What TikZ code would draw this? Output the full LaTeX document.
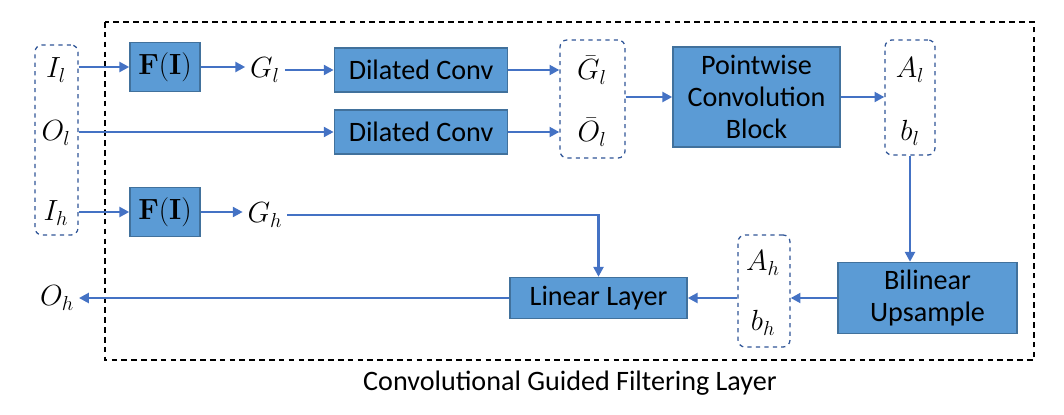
\documentclass[tikz,border=0pt]{standalone}
\usepackage{amsmath, amssymb}
\usepackage[no-math]{fontspec}
\setmainfont{Carlito}
\usepackage{tikz}
\usetikzlibrary{arrows.meta}

\definecolor{boxfill}{HTML}{5B9BD5}
\definecolor{boxline}{HTML}{41719C}
\definecolor{arrowblue}{HTML}{4472C4}
\definecolor{grpline}{HTML}{2F5597}

\begin{document}
\begin{tikzpicture}[x=0.025cm, y=-0.025cm,
  every node/.style={font=\fontsize{20}{23}\selectfont},
  block/.style={draw=boxline, fill=boxfill, line width=1pt, inner sep=0pt, align=center},
  grp/.style={draw=grpline, dashed, line width=0.9pt, rounded corners=5pt, inner sep=0pt},
  flow/.style={draw=arrowblue, line width=1.9pt, -{Triangle[length=7pt,width=7pt]}}]
  \useasboundingbox (0,0) rectangle (1064,414);

  % outer layer frame
  \draw[dashed, line width=1pt, dash pattern=on 4pt off 3pt] (105,22) rectangle (1034,360);
  \node (cap) at (570,383) {Convolutional Guided Filtering Layer};

  % inputs
  \node[grp, minimum width=1.075cm, minimum height=4.75cm] (inbox) at (56.5,140) {};
  \node (il) at (56,70) {$I_l$};
  \node (ol) at (56,133) {$O_l$};
  \node (ih) at (56,213) {$I_h$};

  % low-res branch
  \node[block, minimum width=1.75cm, minimum height=1.225cm] (fl) at (165,67) {$\mathbf{F}(\mathbf{I})$};
  \node (gl) at (265,70) {$G_l$};
  \node[block, minimum width=4.33cm, minimum height=1.1cm] (dcg) at (421,70) {Dilated Conv};
  \node[block, minimum width=4.33cm, minimum height=1.1cm] (dco) at (421,132) {Dilated Conv};
  \node[grp, minimum width=1.625cm, minimum height=2.95cm] (gbox) at (592.5,99) {};
  \node (gbar) at (592,70) {$\bar{G}_l$};
  \node (obar) at (592,132) {$\bar{O}_l$};
  \node[block, minimum width=4.175cm, minimum height=2.5cm] (pw) at (756.5,97) {Pointwise\\Convolution\\Block};
  \node[grp, minimum width=1.25cm, minimum height=2.875cm] (abox) at (910,97.5) {};
  \node (al) at (910,70) {$A_l$};
  \node (bl) at (910,133) {$b_l$};

  % high-res branch
  \node[block, minimum width=1.75cm, minimum height=1.225cm] (fh) at (165,212) {$\mathbf{F}(\mathbf{I})$};
  \node (gh) at (265,215) {$G_h$};
  \node[block, minimum width=4.475cm, minimum height=1.775cm] (bu) at (927.5,298) {Bilinear\\Upsample};
  \node[grp, minimum width=1.3cm, minimum height=2.8cm] (ahbox) at (764,291) {};
  \node (ah) at (763,263) {$A_h$};
  \node (bh) at (763,323) {$b_h$};
  \node[block, minimum width=4.425cm, minimum height=1.025cm] (ll) at (598.5,298) {Linear Layer};
  \node (oh) at (57,298) {$O_h$};

  % connections
  \draw[flow] (inbox.east |- fl) -- (fl.west);
  \draw[flow] (fl.east) -- (gl.west |- fl);
  \draw[flow] (gl.east) -- (dcg.west);
  \draw[flow] (inbox.east |- dco) -- (dco.west);
  \draw[flow] (dcg.east) -- (gbox.west |- dcg);
  \draw[flow] (dco.east) -- (gbox.west |- dco);
  \draw[flow] (gbox.east |- pw) -- (pw.west);
  \draw[flow] (pw.east) -- (abox.west |- pw);
  \draw[flow] (abox.south) -- (abox.south |- bu.north);
  \draw[flow] (bu.west) -- (ahbox.east |- bu);
  \draw[flow] (ahbox.west |- ll) -- (ll.east);
  \draw[flow] (ll.west) -- (oh.east |- ll);
  \draw[flow] (inbox.east |- fh) -- (fh.west);
  \draw[flow] (fh.east) -- (gh.west |- fh);
  \draw[flow] (gh.east) -- (ll.north |- gh) -- (ll.north);
\end{tikzpicture}
\end{document}
